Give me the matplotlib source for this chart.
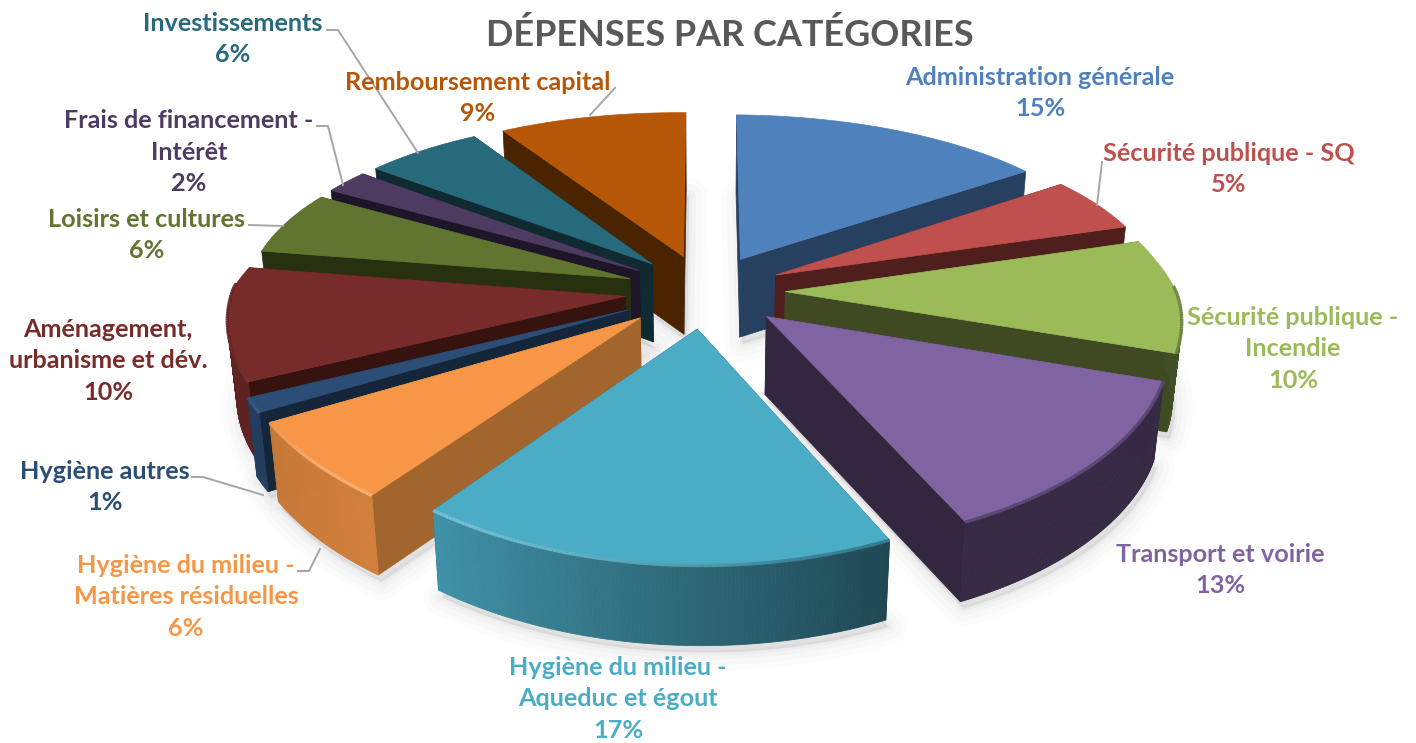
import numpy as np
import matplotlib
matplotlib.use('Agg')
import matplotlib.pyplot as plt
from matplotlib.colors import to_rgb
from matplotlib.patches import Polygon

plt.rcParams['font.family'] = ['Lato', 'DejaVu Sans']

categories = ['Administration générale', 'Sécurité publique - SQ', 'Sécurité publique -\nIncendie',
              'Transport et voirie', 'Hygiène du milieu -\nAqueduc et égout',
              'Hygiène du milieu -\nMatières résiduelles', 'Hygiène autres',
              'Aménagement,\nurbanisme et dév.', 'Loisirs et cultures',
              'Frais de financement -\nIntérêt', 'Investissements', 'Remboursement capital']
# labels show these rounded; the decimals are estimated from the slice widths
percents = [15, 5, 10, 13, 17, 6.4, 1.2, 9.7, 5.8, 2.2, 5.7, 9.0]

top_colors = ['#4F81BD', '#C0504D', '#9BBB59', '#8064A2', '#4BACC6', '#F79646',
              '#2C4D75', '#772C2A', '#5F7530', '#4D3B62', '#276A7C', '#B65708']
cut_colors = ['#274060', '#4F1F1E', '#3F4A22', '#33273F', '#25566A', '#A2652D',
              '#15263B', '#37130F', '#27300F', '#1F1528', '#0F2A31', '#4A2300']
text_colors = top_colors[:]

# how far each slice is pulled out
explode = [0.205, 0.205, 0.205, 0.205, 0.205, 0.22, 0.22, 0.205, 0.205, 0.205, 0.205, 0.205]

# label centres in pixels
label_pos = [(1040, 93), (1229, 169), (1293, 349), (1220, 570), (618, 699), (186, 597),
             (105, 487), (108, 361), (147, 235), (189, 152), (233, 39), (478, 98)]

# leader lines in pixels
leaders = [[(327, 30), (338, 30), (418, 153)],
           [(615, 88), (590, 115)],
           [(317, 126), (328, 126), (343, 185)],
           [(249, 225), (283, 226)],
           [(192, 477), (203, 477), (263, 495)],
           [(298, 571), (309, 571), (320, 549)],
           [(1102, 162), (1097, 205)]]

# projection of the pie
CX, CY = 705, 291
RX, RY = 392, 180
PERSP_X = 0.123
PERSP_Y = 0.175
TILT = 0.008
DEPTH = 78


def project(x, y, z=0.0):
    squeeze = np.where(np.asarray(x) < 0, 0.02, 0.007)
    fx = (1 - squeeze * np.clip(y / 0.2, 0, 1)) / (1 + PERSP_X * y)
    fy = 1 / (1 + PERSP_Y * y)
    g = 1 - 0.02 * z
    px = RX * x * fx * g
    return CX + px, CY - RY * y * fy + TILT * px + DEPTH * z * (0.9 + 0.1 * fy)


def wall_shade(theta):
    # how bright the outer wall is, going clockwise from the top
    return np.interp(theta, [0, 108, 155, 216, 240, 360], [0.45, 0.42, 0.42, 0.85, 0.8, 0.8])


def mix(a, b, t):
    return tuple((1 - t) * p + t * q for p, q in zip(a, b))


fig = plt.figure(figsize=(14.16, 7.43), dpi=100)
ax = fig.add_axes([0, 0, 1, 1])
ax.set_xlim(0, 1416)
ax.set_ylim(743, 0)
ax.axis('off')

edges = np.cumsum([0] + percents) * 3.6
slices = []
for i in range(len(percents)):
    a0, a1 = edges[i], edges[i + 1]
    mid = np.radians((a0 + a1) / 2)
    ox, oy = explode[i] * np.sin(mid), explode[i] * np.cos(mid)
    th = np.radians(np.linspace(a0, a1, max(int(a1 - a0) * 2, 6)))
    px = ox + np.sin(th)
    py = oy + np.cos(th)
    slices.append(dict(i=i, ox=ox, oy=oy, th=th, px=px, py=py, order=np.cos(mid)))

# soft shadow on the floor
for s in slices:
    xs, ys = project(np.r_[s['ox'], s['px']], np.r_[s['oy'], s['py']], 1.0)
    for lw, al in [(26, 0.010), (18, 0.015), (10, 0.02), (4, 0.025)]:
        ax.add_patch(Polygon(np.c_[xs + 3, ys + 7], closed=True, fc='black', ec='black',
                             lw=lw, alpha=al, zorder=1, joinstyle='round'))

z = 2
for s in sorted(slices, key=lambda v: -v['order']):
    i = s['i']
    top = to_rgb(top_colors[i])
    cut = to_rgb(cut_colors[i])

    # cut faces
    for k in (0, -1):
        ex, ey = s['px'][k], s['py'][k]
        p = [project(s['ox'], s['oy'], 0), project(ex, ey, 0), project(ex, ey, 1), project(s['ox'], s['oy'], 1)]
        ax.add_patch(Polygon(p, closed=True, fc=cut, ec=cut, lw=0.5, zorder=z))
        z += 1

    # outer wall, front facing parts only
    for k in range(len(s['th']) - 1):
        deg = np.degrees((s['th'][k] + s['th'][k + 1]) / 2)
        if np.cos(np.radians(deg)) > 0.05:
            continue
        shade = tuple(c * wall_shade(deg) for c in top)
        x0, y0, x1, y1 = s['px'][k], s['py'][k], s['px'][k + 1], s['py'][k + 1]
        p = [project(x0, y0, 0), project(x1, y1, 0), project(x1, y1, 1), project(x0, y0, 1)]
        ax.add_patch(Polygon(p, closed=True, fc=shade, ec=shade, lw=0.6, zorder=z))
    z += 1

    # top face
    xs, ys = project(np.r_[s['ox'], s['px']], np.r_[s['oy'], s['py']], 0)
    ax.add_patch(Polygon(np.c_[xs, ys], closed=True, fc=top, ec=top, lw=0.5, zorder=z))
    z += 1

    # bevel along the front rim
    ex, ey = project(s['px'], s['py'], 0)
    for k in range(len(ex) - 1):
        deg = np.degrees(s['th'][k])
        if np.cos(np.radians(deg)) > 0.05:
            continue
        light = np.clip((deg - 165) / 45, 0, 1) * np.clip((250 - deg) / 25, 0, 1)
        base = mix(top, tuple(c * wall_shade(deg) for c in top), 0.5)
        col = mix(base, mix(top, (1, 1, 1), 0.22), light)
        ax.plot(ex[k:k + 2], ey[k:k + 2], color=col, lw=2.4, zorder=z, solid_capstyle='butt')
    z += 1

for pts in leaders:
    xs, ys = zip(*pts)
    ax.plot(xs, ys, color='#A6A6A6', lw=1.4, zorder=z)
z += 1

for name, pct, col, (x, y) in zip(categories, percents, text_colors, label_pos):
    ax.text(x, y, f'{name}\n{pct:.0f}%', color=col, fontsize=18.2, fontweight='bold',
            ha='center', va='center', multialignment='center', linespacing=1.47, zorder=z)

ax.text(730, 35, 'DÉPENSES PAR CATÉGORIES', color='#595959', fontsize=25.9, fontweight='bold',
        ha='center', va='center', zorder=z)

fig.savefig('out.png', dpi=100)
